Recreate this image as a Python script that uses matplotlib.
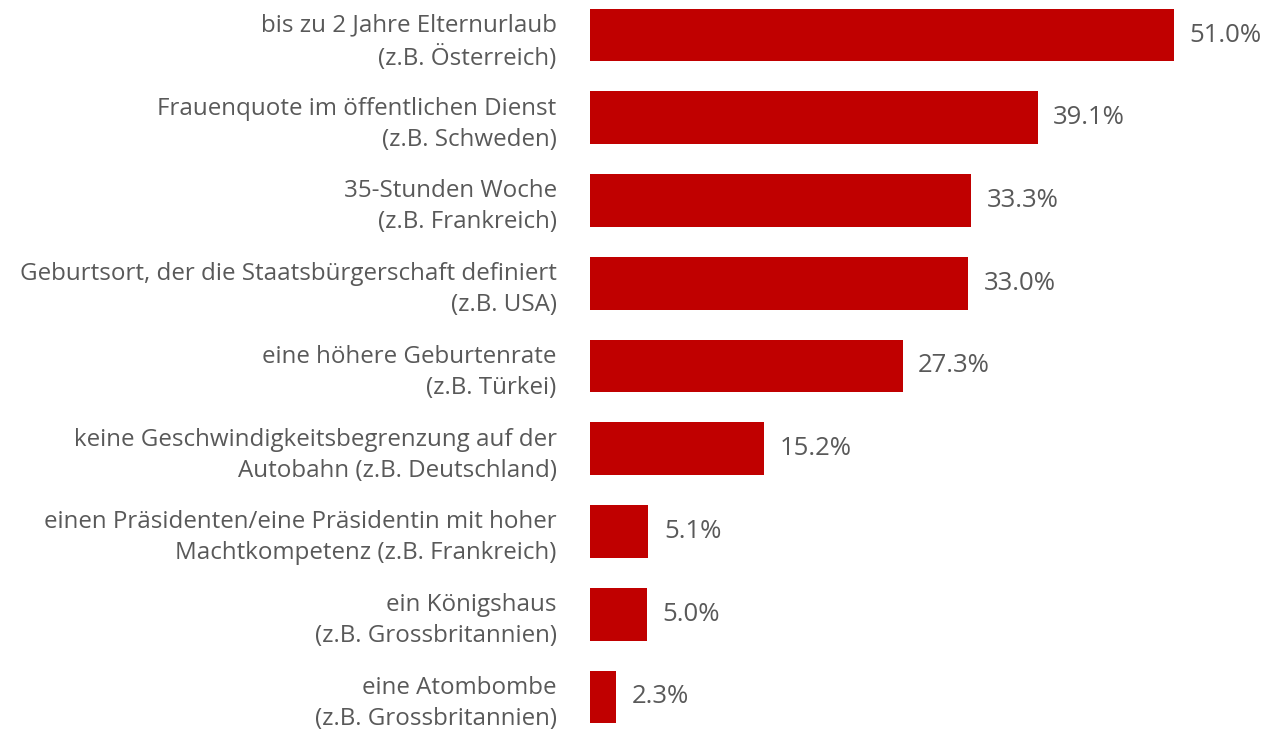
import matplotlib
matplotlib.use("Agg")
import matplotlib.pyplot as plt

labels = [
	"bis zu 2 Jahre Elternurlaub\n(z.B. Österreich)",
	"Frauenquote im öffentlichen Dienst\n(z.B. Schweden)",
	"35-Stunden Woche\n(z.B. Frankreich)",
	"Geburtsort, der die Staatsbürgerschaft definiert\n(z.B. USA)",
	"eine höhere Geburtenrate\n(z.B. Türkei)",
	"keine Geschwindigkeitsbegrenzung auf der\nAutobahn (z.B. Deutschland)",
	"einen Präsidenten/eine Präsidentin mit hoher\nMachtkompetenz (z.B. Frankreich)",
	"ein Königshaus\n(z.B. Grossbritannien)",
	"eine Atombombe\n(z.B. Grossbritannien)",
]
values = [51.0, 39.1, 33.3, 33.0, 27.3, 15.2, 5.1, 5.0, 2.3]

plt.rcParams['font.family'] = ['Open Sans', 'DejaVu Sans']
text_color = "#595959"
bar_color = "#C00000"

fig = plt.figure(figsize=(12.68, 7.31), dpi=100)
ax = fig.add_axes([590 / 1268, 0, 678 / 1268, 1])

pos = list(range(len(values)))
ax.barh(pos, values, height=0.64, color=bar_color)

for y, v in zip(pos, values):
	ax.text(v + 1.35, y, "%.1f%%" % v, va="center", ha="left",
		fontsize=18.5, color=text_color)

ax.set_xlim(0, 59.2)
ax.set_ylim(8.411, -0.423)
ax.set_yticks(pos)
ax.set_yticklabels(labels, fontsize=17.4, color=text_color, linespacing=1.38)
ax.tick_params(axis="y", length=0, pad=24)
ax.set_xticks([])
for s in ax.spines.values():
	s.set_visible(False)

fig.savefig("out.png", dpi=100)
